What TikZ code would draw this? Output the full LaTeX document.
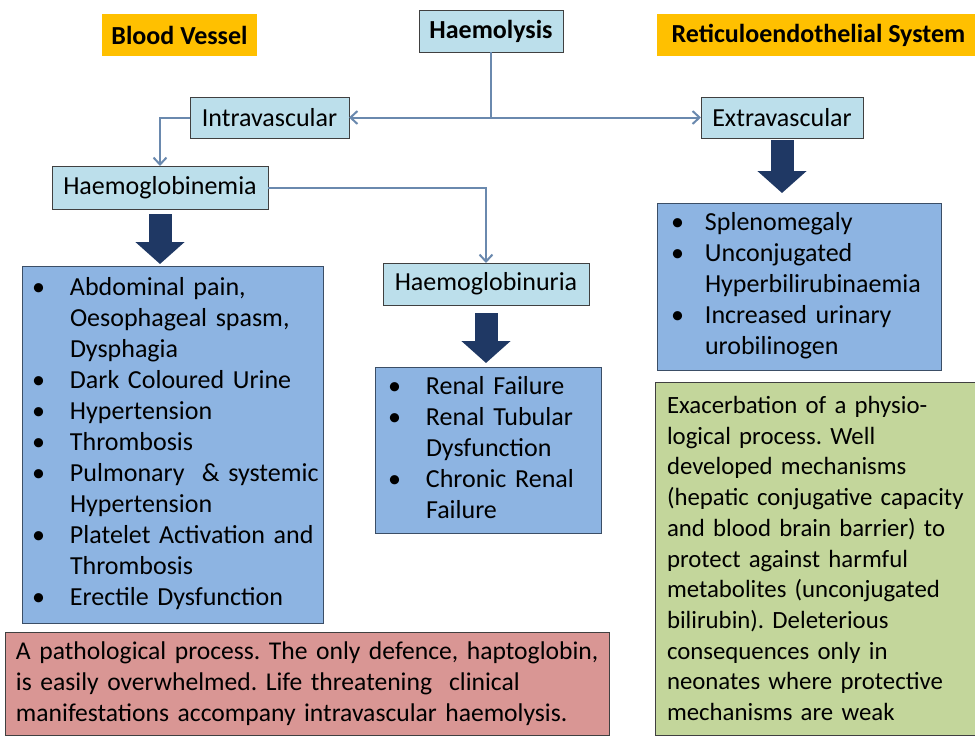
\documentclass[tikz,border=0pt]{standalone}
\usepackage{fontspec}
\setmainfont{Carlito}
\usetikzlibrary{arrows.meta,positioning}

\definecolor{hdrorange}{HTML}{FFC000}
\definecolor{paleblue}{HTML}{BCDFEB}
\definecolor{listblue}{HTML}{8DB4E2}
\definecolor{listedge}{HTML}{3B4E66}
\definecolor{linkblue}{HTML}{6A89AE}
\definecolor{navyarrow}{HTML}{1F3864}
\definecolor{notegreen}{HTML}{C3D69B}
\definecolor{notered}{HTML}{D99694}

\newcommand{\bfont}{\fontsize{26}{31}\selectfont\frenchspacing
  \hyphenpenalty=10000\exhyphenpenalty=10000}
\newcommand{\greenfont}{\fontsize{24.8}{30.7}\selectfont\frenchspacing
  \hyphenpenalty=10000\exhyphenpenalty=10000}
\newcommand{\redfont}{\fontsize{25.6}{31}\selectfont\frenchspacing
  \hyphenpenalty=10000\exhyphenpenalty=10000}

\begin{document}
\begin{tikzpicture}[x=1pt,y=-1pt,
  every node/.style={inner sep=0pt,outer sep=0pt,font=\bfont},
  hdrbox/.style={fill=hdrorange,minimum height=42pt,font=\bfont\bfseries},
  stagebox/.style={draw=black!75,line width=0.9pt,fill=paleblue,minimum height=42pt},
  listbox/.style={draw=listedge,line width=1pt,fill=listblue,align=left},
  notebox/.style={draw=black!75,line width=1pt,align=left,inner xsep=10pt},
  link/.style={draw=linkblue,line width=2pt},
  barb/.style={-{Straight Barb[length=7pt,width=13pt]}},
  fatarrow/.style={draw=navyarrow,line width=23pt,
    -{Triangle[length=22pt,width=48pt]}}]
\useasboundingbox (0,0) rectangle (975,737);

\node[hdrbox,minimum width=155pt] (bv) at (179.5,35) {Blood Vessel};
\node[hdrbox,minimum width=323pt] (res) at (818.5,35) {Reticuloendothelial System};

\node[stagebox,minimum width=144pt,font=\bfont\bfseries] (haem) at (491,31) {Haemolysis};
\node[stagebox,minimum width=159pt,minimum height=41pt] (intra) at (269.5,117.5) {Intravascular};
\node[stagebox,minimum width=162pt,minimum height=41pt] (extra) at (782,117.5) {Extravascular};
\node[stagebox,minimum width=216pt,minimum height=43pt] (hgbemia) at (160,187.5) {Haemoglobinemia};
\node[stagebox,minimum width=206pt] (hgburia) at (486,284) {Haemoglobinuria};

\node[listbox,text width=281pt,inner xsep=10pt,minimum height=357pt] (lsym) at (172.5,444.5) {%
\begin{tabular}{@{}p{38pt}@{}l@{}}
\textbullet & Abdominal pain,\\
 & Oesophageal spasm,\\
 & Dysphagia\\
\textbullet & Dark Coloured Urine\\
\textbullet & Hypertension\\
\textbullet & Thrombosis\\
\textbullet & Pulmonary\ \ \& systemic\\
 & Hypertension\\
\textbullet & Platelet Activation and\\
 & Thrombosis\\
\textbullet & Erectile Dysfunction
\end{tabular}};

\node[listbox,text width=200pt,inner xsep=13pt,minimum height=166pt] (rsym) at (488,450) {%
\begin{tabular}{@{}p{38pt}@{}l@{}}
\textbullet & Renal Failure\\
\textbullet & Renal Tubular\\
 & Dysfunction\\
\textbullet & Chronic Renal\\
 & Failure
\end{tabular}};

\node[listbox,text width=256pt,inner xsep=14pt,minimum height=167pt] (esym) at (799,286.5) {%
\begin{tabular}{@{}p{34pt}@{}l@{}}
\textbullet & Splenomegaly\\
\textbullet & Unconjugated\\
 & Hyperbilirubinaemia\\
\textbullet & Increased urinary\\
 & urobilinogen
\end{tabular}};

\node[notebox,fill=notegreen,text width=340pt,inner xsep=12pt,minimum height=353pt,font=\greenfont] (gnote) at (837,558.5) {%
Exacerbation of a physio-\\
logical process. Well\\
developed mechanisms\\
(hepatic conjugative capacity\\
and blood brain barrier) to\\
protect against harmful\\
metabolites (unconjugated\\
bilirubin). Deleterious\\
consequences only in\\
neonates where protective\\
mechanisms are weak};

\node[notebox,fill=notered,text width=592pt,inner xsep=6pt,minimum height=103pt,font=\redfont] (rnote) at (307,683.5) {%
\hspace*{5pt}A pathological process. The only defence, haptoglobin,\\
\hspace*{5pt}is easily overwhelmed. Life threatening\ \ clinical\\
\hspace*{5pt}manifestations accompany intravascular haemolysis.};

\coordinate (fork) at (haem.south |- intra.east);
\draw[link] (haem.south) -- (fork);
\draw[link,{Straight Barb[length=7pt,width=13pt]}-{Straight Barb[length=7pt,width=13pt]}] (intra.east) -- (extra.west);
\draw[link,barb] (intra.west) -| (hgbemia.north);
\draw[link,barb] (hgbemia.east) -| (hgburia.north);

\draw[fatarrow] ([yshift=-5pt]hgbemia.south) -- ([yshift=2pt]hgbemia.south |- lsym.north);
\draw[fatarrow] ([yshift=-8pt]hgburia.south) -- ([yshift=4pt]hgburia.south |- rsym.north);
\draw[fatarrow] ([yshift=-2pt]extra.south) -- ([yshift=10pt]extra.south |- esym.north);
\end{tikzpicture}
\end{document}
